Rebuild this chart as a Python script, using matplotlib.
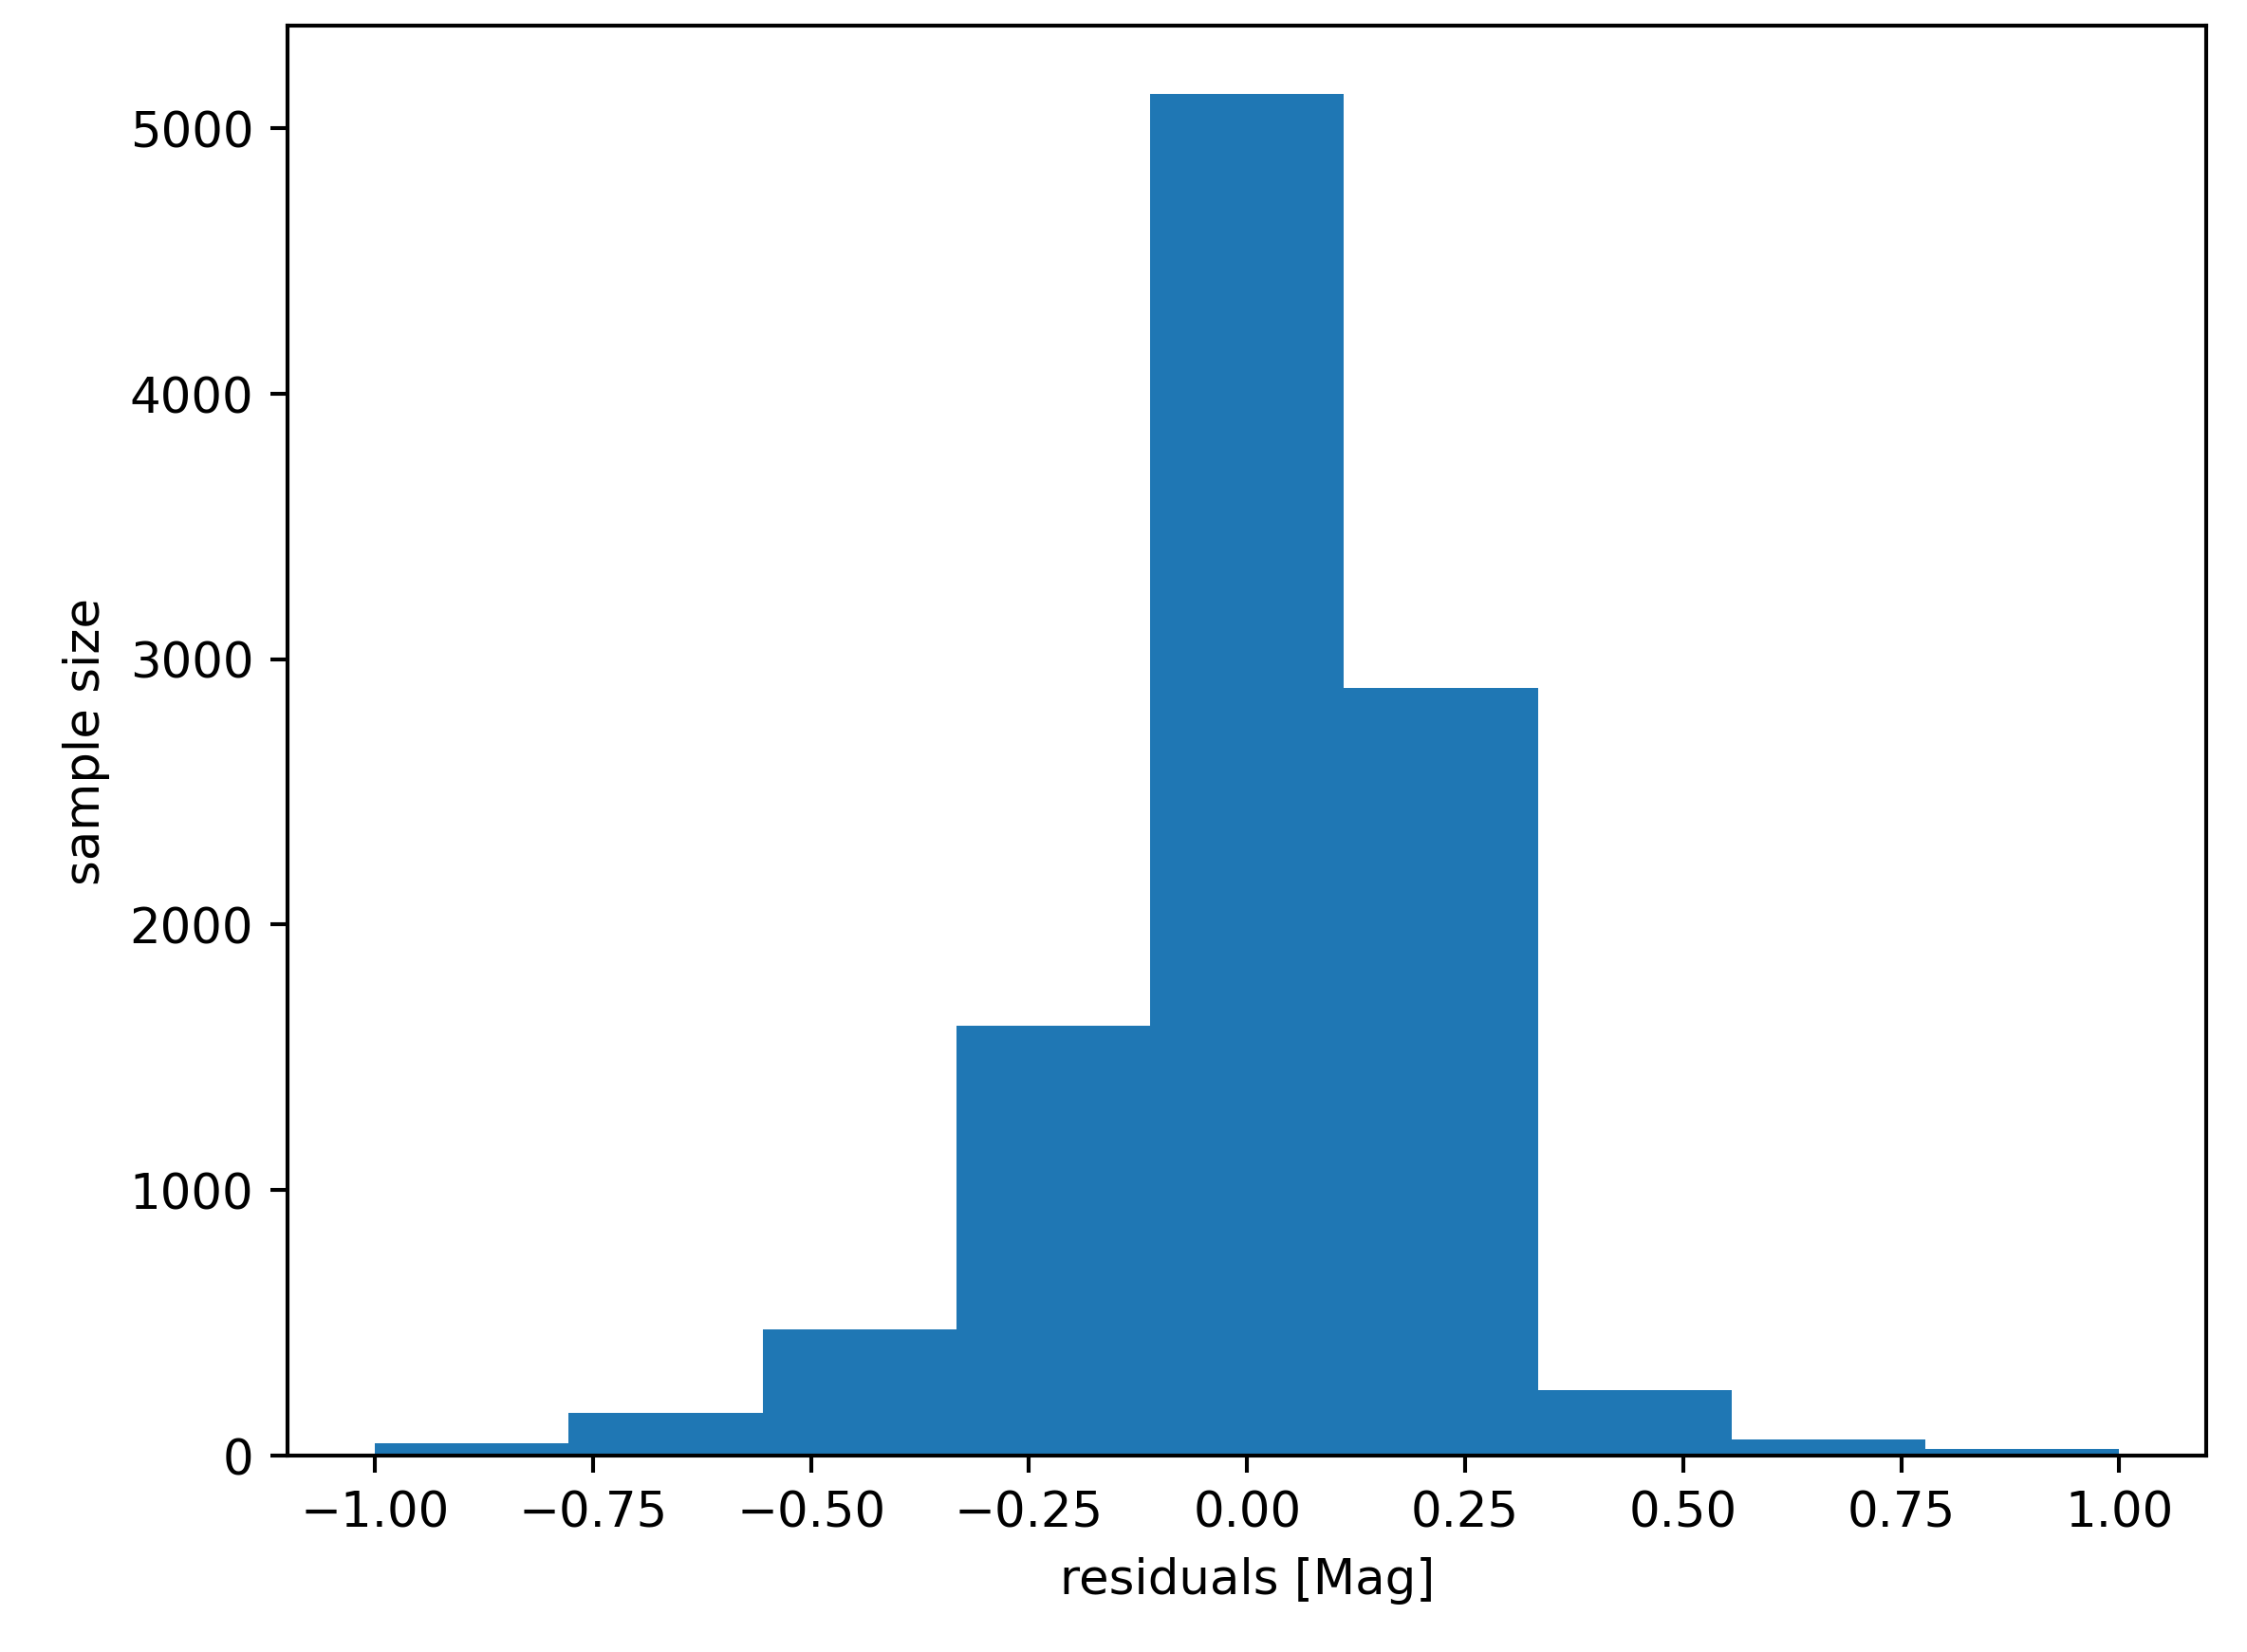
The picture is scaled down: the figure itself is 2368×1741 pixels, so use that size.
import matplotlib
matplotlib.use("Agg")
import matplotlib.pyplot as plt
import numpy as np

bin_edges = np.linspace(-1.0, 1.0, 10)
counts = [45, 160, 475, 1620, 5130, 2890, 245, 60, 25]

fig = plt.figure(figsize=(6.4, 4.708), dpi=370)
ax = fig.add_axes([0.128, 0.119, 0.854, 0.865])
ax.hist(bin_edges[:-1], bins=bin_edges, weights=counts, color="#1f77b4")
ax.set_xlabel("residuals [Mag]")
ax.set_ylabel("sample size")
fig.savefig("out.png", dpi=370)
